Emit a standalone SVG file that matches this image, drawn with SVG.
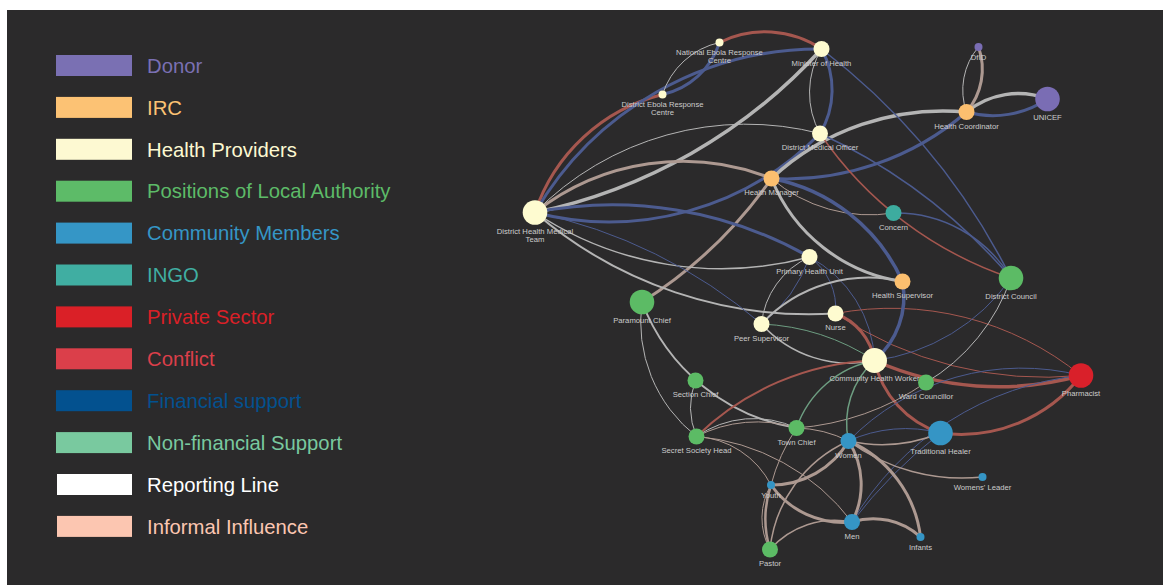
<svg xmlns="http://www.w3.org/2000/svg" width="1163" height="585" viewBox="0 0 1163 585">
<style>
.e{fill:none;stroke-linecap:round}
.fin{stroke:#4c5b8f}.con{stroke:#a5574f}.rep{stroke:#b4b4b4}.inf{stroke:#ad9991}.nfs{stroke:#6d9d81}
.w1{stroke-width:1}.w15{stroke-width:1.5}.w2{stroke-width:2}.w25{stroke-width:2.5}.w3{stroke-width:3}.w35{stroke-width:3.5}
.hp{fill:#fefbd0}.irc{fill:#fcbf6f}.loc{fill:#5cbb65}.com{fill:#3595c5}.ingo{fill:#3dac9f}.don{fill:#7a6db4}.pri{fill:#d9202a}
.lb{font-family:"Liberation Sans",Arial,sans-serif;font-size:7.7px;fill:#cccccc;text-anchor:middle}
.lg{font-family:"Liberation Sans",Arial,sans-serif;font-size:20.3px}
</style>
<rect x="7" y="10" width="1156" height="575" fill="#2b2a2b"/>
<g id="legend">
<rect x="56" y="55" width="76" height="21" fill="#7a70b3"/><text class="lg" x="147" y="72.7" fill="#7a70b3">Donor</text>
<rect x="56" y="96.9" width="76" height="21" fill="#fcc274"/><text class="lg" x="147" y="114.6" fill="#fcc274">IRC</text>
<rect x="56" y="138.8" width="76" height="21" fill="#fdf9d2"/><text class="lg" x="147" y="156.5" fill="#fdf9d2">Health Providers</text>
<rect x="56" y="180.7" width="76" height="21" fill="#5dbb68"/><text class="lg" x="147" y="198.4" fill="#5dbb68">Positions of Local Authority</text>
<rect x="56" y="222.6" width="76" height="21" fill="#3596c6"/><text class="lg" x="147" y="240.3" fill="#3596c6">Community Members</text>
<rect x="56" y="264.5" width="76" height="21" fill="#40aea2"/><text class="lg" x="147" y="282.2" fill="#40aea2">INGO</text>
<rect x="56" y="306.4" width="76" height="21" fill="#da2027"/><text class="lg" x="147" y="324.1" fill="#da2027">Private Sector</text>
<rect x="56" y="348.3" width="76" height="21" fill="#db3f4a"/><text class="lg" x="147" y="366" fill="#db3f4a">Conflict</text>
<rect x="56" y="390.2" width="76" height="21" fill="#03518f"/><text class="lg" x="147" y="407.9" fill="#03518f">Financial support</text>
<rect x="56" y="432.1" width="76" height="21" fill="#79c99f"/><text class="lg" x="147" y="449.8" fill="#79c99f">Non-financial Support</text>
<rect x="57" y="474" width="75" height="21" fill="#ffffff"/><text class="lg" x="147" y="491.7" fill="#ffffff">Reporting Line</text>
<rect x="57" y="515.9" width="75" height="21" fill="#fcc6b1"/><text class="lg" x="147" y="533.6" fill="#fcc6b1">Informal Influence</text>
</g>
<g id="connectors">
<path class="e con w3" d="M535,212.5 A180,180 0 0 1 662.5,94.5"/>
<path class="e fin w3" d="M535,212.5 A329,329 0 0 1 821.5,49"/>
<path class="e con w3" d="M719.5,42.5 A102,102 0 0 1 821.5,49"/>
<path class="e fin w3" d="M719.5,42.5 A77,77 0 0 1 662.5,94.5"/>
<path class="e rep w1" d="M662.5,94.5 A77,77 0 0 1 719.5,42.5"/>
<path class="e rep w35" d="M821.5,49 A533,533 0 0 1 535,212.5"/>
<path class="e fin w3" d="M821.5,49 A84.5,84.5 0 0 1 820,133.5"/>
<path class="e rep w1" d="M820,133.5 A84.5,84.5 0 0 1 821.5,49"/>
<path class="e rep w1" d="M535,212.5 A296,296 0 0 1 820,133.5"/>
<path class="e fin w3" d="M820,133.5 A296,296 0 0 1 535,212.5"/>
<path class="e inf w3" d="M535,212.5 A239,239 0 0 1 771.5,178.5"/>
<path class="e rep w35" d="M771.5,178.5 A252,252 0 0 1 966.5,112"/>
<path class="e fin w3" d="M966.5,112 A275,275 0 0 1 771.5,178.5"/>
<path class="e rep w35" d="M966.5,112 A82,82 0 0 1 1047.5,99"/>
<path class="e fin w3" d="M1047.5,99 A98,98 0 0 1 966.5,112"/>
<path class="e inf w3" d="M978.5,47 A66,66 0 0 1 966.5,112"/>
<path class="e rep w1" d="M966.5,112 A66,66 0 0 1 978.5,47"/>
<path class="e fin w15" d="M821.5,49 A658,658 0 0 1 1011,278"/>
<path class="e fin w15" d="M820,133.5 A558,558 0 0 1 1011,278"/>
<path class="e fin w15" d="M893.5,213 A134,134 0 0 1 1011,278"/>
<path class="e con w15" d="M1011,278 A377,377 0 0 1 820,133.5"/>
<path class="e inf w1" d="M893.5,213 A151,151 0 0 1 771.5,178.5"/>
<path class="e fin w35" d="M771.5,178.5 A180,180 0 0 1 902.5,281.5"/>
<path class="e rep w3" d="M902.5,281.5 A167,167 0 0 1 771.5,178.5"/>
<path class="e inf w3" d="M771.5,178.5 A450,450 0 0 1 642,302"/>
<path class="e fin w3" d="M535,212.5 A399,399 0 0 1 809.5,257"/>
<path class="e rep w15" d="M809.5,257 A337,337 0 0 1 535,212.5"/>
<path class="e rep w2" d="M835.5,313.5 A421,421 0 0 1 535,212.5"/>
<path class="e fin w1" d="M535,212.5 A506,506 0 0 1 761.5,324"/>
<path class="e rep w1" d="M761.5,324 A82,82 0 0 1 809.5,257"/>
<path class="e fin w1" d="M809.5,257 A144,144 0 0 1 761.5,324"/>
<path class="e fin w1" d="M809.5,257 A62,62 0 0 1 835.5,313.5"/>
<path class="e fin w1" d="M809.5,257 A122,122 0 0 1 874.5,360.5"/>
<path class="e rep w2" d="M761.5,324 A147,147 0 0 1 902.5,281.5"/>
<path class="e rep w15" d="M874.5,360.5 A119,119 0 0 1 761.5,324"/>
<path class="e nfs w1" d="M761.5,324 A224,224 0 0 1 874.5,360.5"/>
<path class="e con w1" d="M835.5,313.5 A300,300 0 0 1 1081,375.5"/>
<path class="e con w1" d="M1081,375.5 A375,375 0 0 1 835.5,313.5"/>
<path class="e con w35" d="M1081,375.5 A307,307 0 0 1 874.5,360.5"/>
<path class="e con w3" d="M835.5,313.5 A61,61 0 0 1 874.5,360.5"/>
<path class="e con w3" d="M940.5,433 A98,98 0 0 1 874.5,360.5"/>
<path class="e con w3" d="M1081,375.5 A152,152 0 0 1 940.5,433"/>
<path class="e fin w1" d="M848.5,441 A241.5,241.5 0 0 1 1081,375.5"/>
<path class="e fin w1" d="M852,522 A300,300 0 0 1 1081,375.5"/>
<path class="e fin w1" d="M852,522 A494,494 0 0 1 940.5,433"/>
<path class="e fin w1" d="M848.5,441 A137,137 0 0 1 940.5,433"/>
<path class="e inf w15" d="M940.5,433 A156,156 0 0 1 848.5,441"/>
<path class="e rep w1" d="M1011,278 A195,195 0 0 1 926,382.5"/>
<path class="e inf w1" d="M926,382.5 A266,266 0 0 1 796.5,428"/>
<path class="e fin w1" d="M1011,278 A196,196 0 0 1 874.5,360.5"/>
<path class="e fin w35" d="M902.5,281.5 A84,84 0 0 1 874.5,360.5"/>
<path class="e rep w2" d="M796.5,428 A199.4,199.4 0 0 1 642,302"/>
<path class="e rep w1" d="M696.5,436.5 A145,145 0 0 1 642,302"/>
<path class="e rep w1" d="M696.5,436.5 A75,75 0 0 1 695.5,380.5"/>
<path class="e con w2" d="M696.5,436.5 A269,269 0 0 1 874.5,360.5"/>
<path class="e rep w1" d="M696.5,436.5 A100,100 0 0 1 796.5,428"/>
<path class="e inf w1" d="M696.5,436.5 A131,131 0 0 1 796.5,428"/>
<path class="e inf w1" d="M696.5,436.5 A89,89 0 0 1 771,485"/>
<path class="e inf w1" d="M696.5,436.5 A217,217 0 0 1 852,522"/>
<path class="e nfs w15" d="M796.5,428 A103,103 0 0 1 874.5,360.5"/>
<path class="e nfs w15" d="M848.5,441 A84.6,84.6 0 0 1 874.5,360.5"/>
<path class="e inf w1" d="M796.5,428 A121,121 0 0 1 848.5,441"/>
<path class="e inf w1" d="M771,485 A190,190 0 0 1 796.5,428"/>
<path class="e inf w3" d="M848.5,441 A89,89 0 0 1 771,485"/>
<path class="e inf w3" d="M852,522 A89,89 0 0 1 771,485"/>
<path class="e inf w25" d="M770,549.5 A106,106 0 0 1 771,485"/>
<path class="e inf w1" d="M770,549.5 A64.5,64.5 0 0 1 771,485"/>
<path class="e inf w15" d="M770,549.5 A134,134 0 0 1 848.5,441"/>
<path class="e inf w15" d="M770,549.5 A86.5,86.5 0 0 1 852,522"/>
<path class="e inf w3" d="M848.5,441 A81,81 0 0 1 852,522"/>
<path class="e inf w3" d="M848.5,441 A120,120 0 0 1 920.5,537"/>
<path class="e inf w3" d="M852,522 A70,70 0 0 1 920.5,537"/>
<path class="e inf w15" d="M982.5,477 A192,192 0 0 1 848.5,441"/>
</g>
<g id="nerc"><circle class="hp" cx="719.5" cy="42.5" r="4"/><text class="lb" x="719.5" y="55">National Ebola Response</text><text class="lb" x="719.5" y="63">Centre</text></g>
<g id="moh"><circle class="hp" cx="821.5" cy="49" r="8"/><text class="lb" x="821.5" y="65.5">Minister of Health</text></g>
<g id="derc"><circle class="hp" cx="662.5" cy="94.5" r="4"/><text class="lb" x="662.5" y="107">District Ebola Response</text><text class="lb" x="662.5" y="115">Centre</text></g>
<g id="dmo"><circle class="hp" cx="820" cy="133.5" r="8"/><text class="lb" x="820" y="150">District Medical Officer</text></g>
<g id="hm"><circle class="irc" cx="771.5" cy="178.5" r="8"/><text class="lb" x="771.5" y="195">Health Manager</text></g>
<g id="dhmt"><circle class="hp" cx="535" cy="212.5" r="12.3"/><text class="lb" x="535" y="234">District Health Medical</text><text class="lb" x="535" y="242">Team</text></g>
<g id="dfid"><circle class="don" cx="978.5" cy="47" r="4"/><text class="lb" x="978.5" y="59.5">DfID</text></g>
<g id="unicef"><circle class="don" cx="1047.5" cy="99" r="12.3"/><text class="lb" x="1047.5" y="119.8">UNICEF</text></g>
<g id="hc"><circle class="irc" cx="966.5" cy="112" r="8"/><text class="lb" x="966.5" y="128.5">Health Coordinator</text></g>
<g id="concern"><circle class="ingo" cx="893.5" cy="213" r="8"/><text class="lb" x="893.5" y="229.5">Concern</text></g>
<g id="dc"><circle class="loc" cx="1011" cy="278" r="12.3"/><text class="lb" x="1011" y="298.8">District Council</text></g>
<g id="hs"><circle class="irc" cx="902.5" cy="281.5" r="8"/><text class="lb" x="902.5" y="298">Health Supervisor</text></g>
<g id="phu"><circle class="hp" cx="809.5" cy="257" r="8"/><text class="lb" x="809.5" y="273.5">Primary Health Unit</text></g>
<g id="nurse"><circle class="hp" cx="835.5" cy="313.5" r="8"/><text class="lb" x="835.5" y="330">Nurse</text></g>
<g id="pc"><circle class="loc" cx="642" cy="302" r="12.3"/><text class="lb" x="642" y="322.8">Paramount Chief</text></g>
<g id="ps"><circle class="hp" cx="761.5" cy="324" r="8"/><text class="lb" x="761.5" y="340.5">Peer Supervisor</text></g>
<g id="chw"><circle class="hp" cx="874.5" cy="360.5" r="12.5"/><text class="lb" x="874.5" y="381">Community Health Worker</text></g>
<g id="wc"><circle class="loc" cx="926" cy="382.5" r="8"/><text class="lb" x="926" y="399">Ward Councillor</text></g>
<g id="pharm"><circle class="pri" cx="1081" cy="375.5" r="12.3"/><text class="lb" x="1081" y="396">Pharmacist</text></g>
<g id="secc"><circle class="loc" cx="695.5" cy="380.5" r="8"/><text class="lb" x="695.5" y="397">Section Chief</text></g>
<g id="ssh"><circle class="loc" cx="696.5" cy="436.5" r="8"/><text class="lb" x="696.5" y="453">Secret Society Head</text></g>
<g id="tc"><circle class="loc" cx="796.5" cy="428" r="8"/><text class="lb" x="796.5" y="444.5">Town Chief</text></g>
<g id="women"><circle class="com" cx="848.5" cy="441" r="8"/><text class="lb" x="848.5" y="457.5">Women</text></g>
<g id="th"><circle class="com" cx="940.5" cy="433" r="12.3"/><text class="lb" x="940.5" y="453.8">Traditional Healer</text></g>
<g id="wl"><circle class="com" cx="982.5" cy="477" r="4"/><text class="lb" x="982.5" y="489.5">Womens' Leader</text></g>
<g id="youth"><circle class="com" cx="771" cy="485" r="4"/><text class="lb" x="771" y="497.5">Youth</text></g>
<g id="men"><circle class="com" cx="852" cy="522" r="8"/><text class="lb" x="852" y="538.5">Men</text></g>
<g id="infants"><circle class="com" cx="920.5" cy="537" r="4"/><text class="lb" x="920.5" y="549.5">Infants</text></g>
<g id="pastor"><circle class="loc" cx="770" cy="549.5" r="8"/><text class="lb" x="770" y="566">Pastor</text></g>
</svg>
